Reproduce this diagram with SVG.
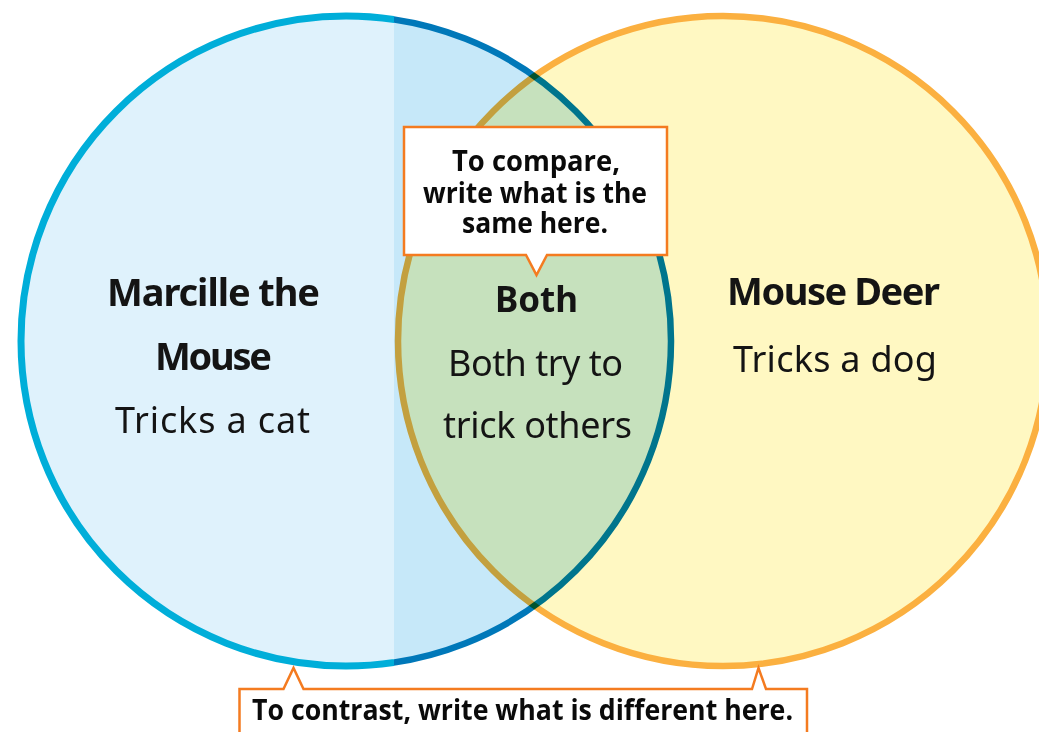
<svg xmlns="http://www.w3.org/2000/svg" width="1039" height="732" viewBox="0 0 1039 732">
  <style>
    .head { font-family: "Noto Sans", "DejaVu Sans", sans-serif; font-weight: 700; font-size: 38px; fill: #141414; }
    .body { font-family: "Noto Sans", "DejaVu Sans", sans-serif; font-weight: 400; font-size: 36px; fill: #141414; }
    .note { font-family: "Open Sans", "Liberation Sans", sans-serif; font-weight: 700; font-size: 28px; fill: #0a0a0a; }
    .callout { fill: #ffffff; stroke: #f47b20; stroke-width: 2.5; stroke-linejoin: miter; }
  </style>
  <defs>
    <clipPath id="clipL"><rect x="0" y="0" width="394" height="732"/></clipPath>
    <clipPath id="clipR"><rect x="394" y="0" width="700" height="732"/></clipPath>
  </defs>
  <rect x="0" y="0" width="1039" height="732" fill="#ffffff"/>

  <g id="circle-marcille">
    <circle cx="346" cy="341" r="325" fill="#dff2fc" stroke="#00aed9" stroke-width="7" clip-path="url(#clipL)"/>
    <circle cx="346" cy="341" r="325" fill="#c6e8f9" stroke="#0078b9" stroke-width="6.5" clip-path="url(#clipR)"/>
  </g>

  <g id="circle-mouse-deer" style="mix-blend-mode:multiply">
    <circle cx="723" cy="341" r="325" fill="#fff8c2" stroke="#fbb040" stroke-width="6.5"/>
  </g>

  <g id="label-marcille">
    <text class="head" x="107" y="306" textLength="213">Marcille the</text>
    <text class="head" x="155" y="370" textLength="117">Mouse</text>
    <text class="body" x="115" y="433" textLength="195">Tricks a cat</text>
  </g>

  <g id="label-mouse-deer">
    <text class="head" x="727" y="305" textLength="213">Mouse Deer</text>
    <text class="body" x="733" y="372" textLength="204">Tricks a dog</text>
  </g>

  <g id="label-both">
    <text class="head" x="536.5" y="312" text-anchor="middle" style="font-size:35px">Both</text>
    <text class="body" x="448" y="376" textLength="175">Both try to</text>
    <text class="body" x="443" y="438" textLength="189">trick others</text>
  </g>

  <g id="callout-compare">
    <path class="callout" d="M404,127 H667 V255 H547 L536.5,275 L526,255 H404 Z"/>
    <text class="note" x="452" y="171" textLength="168" lengthAdjust="spacingAndGlyphs">To compare,</text>
    <text class="note" x="423" y="203" textLength="224" lengthAdjust="spacingAndGlyphs">write what is the</text>
    <text class="note" x="462" y="233" textLength="146" lengthAdjust="spacingAndGlyphs">same here.</text>
  </g>

  <g id="callout-contrast">
    <path class="callout" d="M239.5,745 V689 H283.5 L293.5,668 L303.5,689 H752 L758.5,668 L766,689 H807 V745"/>
    <text class="note" x="252" y="720" textLength="541" lengthAdjust="spacingAndGlyphs">To contrast, write what is different here.</text>
  </g>
</svg>
